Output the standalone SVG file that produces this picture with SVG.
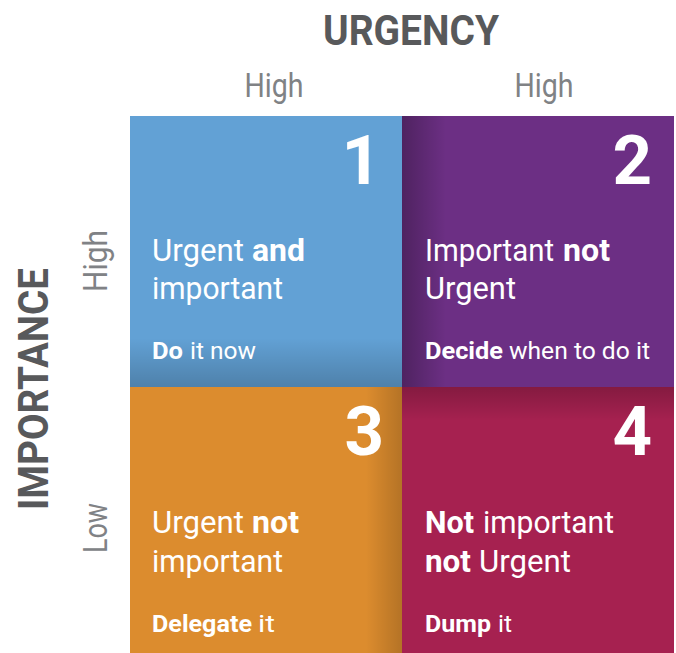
<svg xmlns="http://www.w3.org/2000/svg" width="676" height="653" viewBox="0 0 676 653">
  <style>
    text { font-family: Roboto, "Liberation Sans", sans-serif; }
    .axis { fill: #58595b; font-weight: bold; font-size: 42px; }
    .lvl { fill: #808285; font-size: 33px; }
    .num { fill: #ffffff; font-weight: bold; font-size: 69px; text-anchor: end; }
    .main { fill: #ffffff; font-size: 32px; }
    .sub { fill: #ffffff; font-size: 23px; }
    .b { font-weight: bold; }
  </style>
  <defs>
    <linearGradient id="shadeBottom" x1="0" y1="0" x2="0" y2="1">
      <stop offset="0" stop-color="#000" stop-opacity="0"/>
      <stop offset="1" stop-color="#000" stop-opacity="0.2"/>
    </linearGradient>
    <linearGradient id="shadeLeft" x1="1" y1="0" x2="0" y2="0">
      <stop offset="0" stop-color="#000" stop-opacity="0"/>
      <stop offset="1" stop-color="#000" stop-opacity="0.27"/>
    </linearGradient>
    <linearGradient id="shadeRight" x1="0" y1="0" x2="1" y2="0">
      <stop offset="0" stop-color="#000" stop-opacity="0"/>
      <stop offset="1" stop-color="#000" stop-opacity="0.18"/>
    </linearGradient>
    <linearGradient id="shadeTop" x1="0" y1="1" x2="0" y2="0">
      <stop offset="0" stop-color="#000" stop-opacity="0"/>
      <stop offset="1" stop-color="#000" stop-opacity="0.2"/>
    </linearGradient>
  </defs>

  <rect width="676" height="653" fill="#ffffff"/>

  <!-- axis titles and levels -->
  <g id="axes">
    <text class="axis" x="411" y="45" text-anchor="middle" textLength="176" lengthAdjust="spacingAndGlyphs">URGENCY</text>
    <text class="lvl" x="274" y="97" text-anchor="middle" textLength="59" lengthAdjust="spacingAndGlyphs">High</text>
    <text class="lvl" x="544" y="97" text-anchor="middle" textLength="59" lengthAdjust="spacingAndGlyphs">High</text>
    <text class="axis" transform="translate(48,389) rotate(-90)" text-anchor="middle" textLength="242" lengthAdjust="spacingAndGlyphs">IMPORTANCE</text>
    <text class="lvl" transform="translate(107,261) rotate(-90)" text-anchor="middle" textLength="62" lengthAdjust="spacingAndGlyphs">High</text>
    <text class="lvl" transform="translate(107,528) rotate(-90)" text-anchor="middle" textLength="50" lengthAdjust="spacingAndGlyphs">Low</text>
  </g>

  <!-- quadrant 1: urgent and important -->
  <g id="q1">
    <rect x="130" y="116" width="272" height="271" fill="#62a1d5"/>
    <rect x="130" y="338" width="272" height="49" fill="url(#shadeBottom)"/>
    <text class="num" x="381" y="184">1</text>
    <text class="main" x="152" y="261" textLength="92" lengthAdjust="spacingAndGlyphs">Urgent</text>
    <text class="main b" x="252" y="261" textLength="53" lengthAdjust="spacingAndGlyphs">and</text>
    <text class="main" x="152" y="299" textLength="131" lengthAdjust="spacingAndGlyphs">important</text>
    <text class="sub b" x="152" y="359" textLength="31" lengthAdjust="spacingAndGlyphs">Do</text>
    <text class="sub" x="190" y="359" textLength="66" lengthAdjust="spacingAndGlyphs">it now</text>
  </g>

  <!-- quadrant 2: important not urgent -->
  <g id="q2">
    <rect x="402" y="116" width="272" height="271" fill="#6c2f84"/>
    <rect x="402" y="116" width="44" height="271" fill="url(#shadeLeft)"/>
    <text class="num" x="652" y="184">2</text>
    <text class="main" x="425" y="261" textLength="129" lengthAdjust="spacingAndGlyphs">Important</text>
    <text class="main b" x="563" y="261" textLength="47" lengthAdjust="spacingAndGlyphs">not</text>
    <text class="main" x="425" y="299" textLength="91" lengthAdjust="spacingAndGlyphs">Urgent</text>
    <text class="sub b" x="425" y="359" textLength="78" lengthAdjust="spacingAndGlyphs">Decide</text>
    <text class="sub" x="509" y="359" textLength="141" lengthAdjust="spacingAndGlyphs">when to do it</text>
  </g>

  <!-- quadrant 3: urgent not important -->
  <g id="q3">
    <rect x="130" y="387" width="272" height="266" fill="#dc8c2e"/>
    <rect x="366" y="387" width="36" height="266" fill="url(#shadeRight)"/>
    <text class="num" x="384" y="455">3</text>
    <text class="main" x="152" y="533" textLength="92" lengthAdjust="spacingAndGlyphs">Urgent</text>
    <text class="main b" x="252" y="533" textLength="47" lengthAdjust="spacingAndGlyphs">not</text>
    <text class="main" x="152" y="572" textLength="131" lengthAdjust="spacingAndGlyphs">important</text>
    <text class="sub b" x="152" y="632" textLength="100" lengthAdjust="spacingAndGlyphs">Delegate</text>
    <text class="sub" x="258" y="632" textLength="17" lengthAdjust="spacingAndGlyphs">it</text>
  </g>

  <!-- quadrant 4: not important not urgent -->
  <g id="q4">
    <rect x="402" y="387" width="272" height="266" fill="#a62150"/>
    <rect x="402" y="387" width="272" height="34" fill="url(#shadeTop)"/>
    <text class="num" x="652" y="455">4</text>
    <text class="main b" x="425" y="533" textLength="49" lengthAdjust="spacingAndGlyphs">Not</text>
    <text class="main" x="483" y="533" textLength="131" lengthAdjust="spacingAndGlyphs">important</text>
    <text class="main b" x="425" y="572" textLength="46" lengthAdjust="spacingAndGlyphs">not</text>
    <text class="main" x="479" y="572" textLength="92" lengthAdjust="spacingAndGlyphs">Urgent</text>
    <text class="sub b" x="425" y="632" textLength="66" lengthAdjust="spacingAndGlyphs">Dump</text>
    <text class="sub" x="498" y="632" textLength="14" lengthAdjust="spacingAndGlyphs">it</text>
  </g>

  <!-- no connectors in this matrix -->
  <g id="connectors"/>
</svg>
